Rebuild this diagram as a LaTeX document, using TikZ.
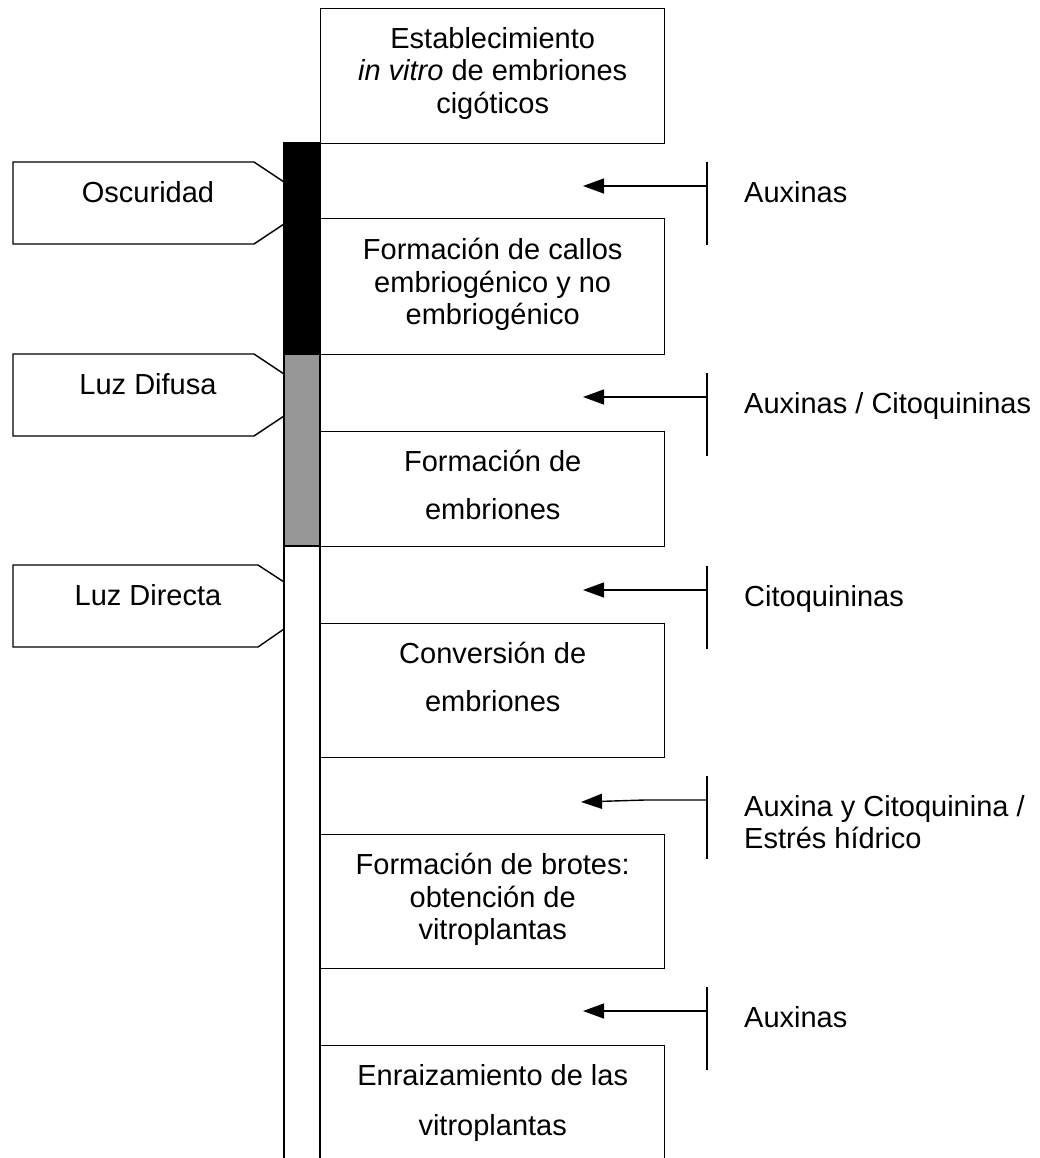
\documentclass[tikz,border=0pt]{standalone}
\usepackage{fontspec}
\setmainfont{Liberation Sans}
\usepackage{tikz}
\usetikzlibrary{arrows.meta,positioning}
\definecolor{difusa}{HTML}{969696}
\tikzset{
  stagebox/.style={draw=black, line width=1.4pt, fill=white, anchor=north west,
                   minimum width=344pt, inner sep=0pt},
  stagetext/.style={align=center, inner sep=0pt, font=\fontsize{29}{32.5}\selectfont},
  hormtext/.style={align=left, inner sep=0pt, anchor=north west,
                   font=\fontsize{29}{32.5}\selectfont},
  tagline/.style={draw=black, line width=1.4pt, fill=white},
  barline/.style={draw=black, line width=1.4pt},
  hline/.style={line width=1.4pt, color=black},
  harr/.style={-{Triangle[length=21pt, width=15pt]}, line width=1.4pt, color=black}}
\begin{document}
\begin{tikzpicture}[x=1pt, y=-1pt]
  \useasboundingbox (0,0) rectangle (1039,1158);
  % light tags
  \draw[tagline] (13,162) -- (254,162) -- (284,182) -- (284,224) -- (254,244) -- (13,244) -- cycle;
  \draw[tagline] (13,354) -- (254,354) -- (284,374) -- (284,416) -- (254,436) -- (13,436) -- cycle;
  \draw[tagline] (13,565) -- (258,565) -- (284,582) -- (284,629) -- (258,647) -- (13,647) -- cycle;
  \node[stagetext, anchor=north] (osc) at (148,181) {Oscuridad};
  \node[stagetext, anchor=north] (difusa) at (148,373) {Luz Difusa};
  \node[stagetext, anchor=north] (directa) at (148,584) {Luz Directa};
  % light bar
  \draw[barline, fill=black] (284,143) rectangle (320,354);
  \draw[barline, fill=difusa] (284,354) rectangle (320,546);
  \draw[barline, fill=white] (284,546) rectangle (320,1175);
  % stages
  \node[stagebox, minimum height=135pt] (est) at (320,8) {};
  \node[stagetext, below=19pt of est.north] (estt)
    {Establecimiento\\\textit{in vitro} de embriones\\cigóticos};
  \node[stagebox, minimum height=136pt] (callos) at (320,218) {};
  \node[stagetext, below=20pt of callos.north] (callost)
    {Formación de callos\\embriogénico y no\\embriogénico};
  \node[stagebox, minimum height=115pt] (embr) at (320,431) {};
  \node[stagetext, below=19pt of embr.north] (embrt)
    {Formación de\\[15pt]embriones};
  \node[stagebox, minimum height=134pt] (conv) at (320,623) {};
  \node[stagetext, below=19pt of conv.north] (convt)
    {Conversión de\\[15pt]embriones};
  \node[stagebox, minimum height=134pt] (brotes) at (320,834) {};
  \node[stagetext, below=19pt of brotes.north] (brotest)
    {Formación de brotes:\\obtención de\\vitroplantas};
  \node[stagebox, minimum height=140pt] (enra) at (320,1045) {};
  \node[stagetext, below=19pt of enra.north] (enrat)
    {Enraizamiento de las\\[18pt]vitroplantas};
  % hormones
  \coordinate (v1t) at (707,162);  \coordinate (v1b) at (707,245);
  \coordinate (a1s) at (707,186);  \coordinate (a1e) at (583,186);
  \coordinate (v2t) at (707,373);  \coordinate (v2b) at (707,456);
  \coordinate (a2s) at (707,397);  \coordinate (a2e) at (583,397);
  \coordinate (v3t) at (707,566);  \coordinate (v3b) at (707,649);
  \coordinate (a3s) at (707,590);  \coordinate (a3e) at (583,590);
  \coordinate (v4t) at (707,776);  \coordinate (v4b) at (707,859);
  \coordinate (a4s) at (707,800);  \coordinate (a4e) at (581,802);
  \coordinate (v5t) at (707,987);  \coordinate (v5b) at (707,1070);
  \coordinate (a5s) at (707,1011); \coordinate (a5e) at (583,1011);
  \draw[hline] (v1t) -- (v1b);
  \draw[hline] (v2t) -- (v2b);
  \draw[hline] (v3t) -- (v3b);
  \draw[hline] (v4t) -- (v4b);
  \draw[hline] (v5t) -- (v5b);
  \draw[harr] (a1s) -- (a1e);
  \draw[harr] (a2s) -- (a2e);
  \draw[harr] (a3s) -- (a3e);
  \draw[harr] (a4s) -- (645,800) -- (a4e);
  \draw[harr] (a5s) -- (a5e);
  \node[hormtext] (aux1) at (744,181) {Auxinas};
  \node[hormtext] (auxcit) at (744,392) {Auxinas / Citoquininas};
  \node[hormtext] (cit) at (744,585) {Citoquininas};
  \node[hormtext] (auxest) at (744,795) {Auxina y Citoquinina /\\Estrés hídrico};
  \node[hormtext] (aux2) at (744,1006) {Auxinas};
\end{tikzpicture}
\end{document}
